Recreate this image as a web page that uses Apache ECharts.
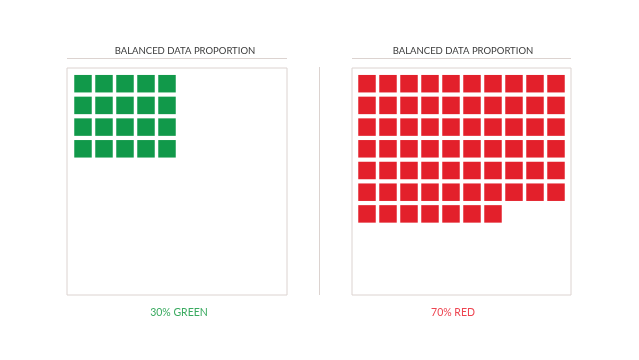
<!DOCTYPE html>
<html>
<head>
<meta charset="utf-8">
<script src="https://cdn.jsdelivr.net/npm/echarts@6/dist/echarts.min.js"></script>
<style>
  html, body { margin: 0; padding: 0; background: #fff; }
  #chart { width: 639px; height: 360px; }
</style>
</head>
<body>
<div id="chart"></div>
<script>
// squares per row, top to bottom
const greenRows = [5, 5, 5, 5]
const redRows = [10, 10, 10, 10, 10, 10, 7]
const panelTitles = ['BALANCED DATA PROPORTION', 'BALANCED DATA PROPORTION']
const panelLabels = ['30% GREEN', '70% RED']

const GREEN = '#11994a'
const RED = '#e3202b'
const BORDER = '#dcd3d0'
const PITCH_X = 21
const PITCH_Y = 21.7

// turn row counts into [col, row] cells
function toCells(rows) {
  const cells = []
  rows.forEach((n, r) => {
    for (let c = 0; c < n; c++) cells.push([c, r])
  })
  return cells
}

const boxes = [
  { left: 67, top: 68, width: 220, height: 227, offX: 16, offY: 15.7 },
  { left: 352, top: 68, width: 219, height: 227, offX: 15, offY: 15.7 }
]

const chart = echarts.init(document.getElementById('chart'))

const grids = boxes.map(b => ({
  left: b.left, top: b.top, width: b.width, height: b.height,
  show: true, borderColor: BORDER, borderWidth: 1, backgroundColor: 'transparent'
}))

const xAxes = boxes.map((b, i) => ({
  type: 'value', gridIndex: i, show: false,
  min: -b.offX / PITCH_X, max: (b.width - b.offX) / PITCH_X
}))
const yAxes = boxes.map((b, i) => ({
  type: 'value', gridIndex: i, show: false, inverse: true,
  min: -b.offY / PITCH_Y, max: (b.height - b.offY) / PITCH_Y
}))

const titleFont = { fontFamily: 'Lato', fontSize: 9.5, color: '#3a3a3a', fontWeight: 'normal' }

chart.setOption({
  animation: false,
  title: [
    { text: panelTitles[0], left: 180, top: 41, textAlign: 'center', textStyle: titleFont },
    { text: panelTitles[1], left: 458, top: 41, textAlign: 'center', textStyle: titleFont },
    { text: panelLabels[0], left: 174, top: 302, textAlign: 'center',
      textStyle: { fontFamily: 'Lato', fontSize: 10.5, color: '#3aaa60', fontWeight: 'normal' } },
    { text: panelLabels[1], left: 448, top: 302, textAlign: 'center',
      textStyle: { fontFamily: 'Lato', fontSize: 10.5, color: '#ee4450', fontWeight: 'normal' } }
  ],
  grid: grids,
  xAxis: xAxes,
  yAxis: yAxes,
  graphic: [
    { type: 'line', shape: { x1: 67, y1: 58.5, x2: 287, y2: 58.5 }, style: { stroke: BORDER, lineWidth: 1 } },
    { type: 'line', shape: { x1: 352, y1: 58.5, x2: 571, y2: 58.5 }, style: { stroke: BORDER, lineWidth: 1 } },
    { type: 'line', shape: { x1: 319.5, y1: 67, x2: 319.5, y2: 295 }, style: { stroke: BORDER, lineWidth: 1 } }
  ],
  series: [
    {
      type: 'scatter', xAxisIndex: 0, yAxisIndex: 0,
      symbol: 'rect', symbolSize: 17.5,
      itemStyle: { color: GREEN, opacity: 1 },
      data: toCells(greenRows)
    },
    {
      type: 'scatter', xAxisIndex: 1, yAxisIndex: 1,
      symbol: 'rect', symbolSize: 17.5,
      itemStyle: { color: RED, opacity: 1 },
      data: toCells(redRows)
    }
  ]
})
</script>
</body>
</html>
